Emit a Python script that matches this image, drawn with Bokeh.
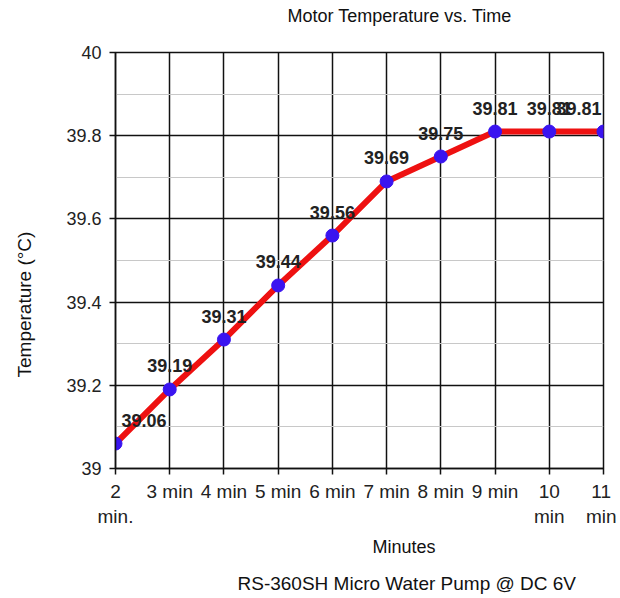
from bokeh.plotting import figure
from bokeh.models import ColumnDataSource, FixedTicker, Range1d, LabelSet, Title
from bokeh.embed import file_html
from bokeh.resources import INLINE
from bokeh.core.properties import value

minutes = ["2\nmin.", "3 min", "4 min", "5 min", "6 min", "7 min", "8 min",
           "9 min", "10\nmin", "11\nmin"]
temps = [39.06, 39.19, 39.31, 39.44, 39.56, 39.69, 39.75, 39.81, 39.81, 39.81]
y_ticks = [39.0, 39.2, 39.4, 39.6, 39.8, 40.0]
y_tick_labels = ["39", "39.2", "39.4", "39.6", "39.8", "40"]
y_minor = [39.1, 39.3, 39.5, 39.7, 39.9]

title_text = "Motor Temperature vs. Time"
x_title = "Minutes"
y_title = "Temperature (°C)"
subtitle = "RS-360SH Micro Water Pump @ DC 6V"

FONT = "Liberation Sans"
idx = list(range(len(minutes)))
aligns = ["left"] + ["center"] * (len(minutes) - 2) + ["right"]
xoffs = [6] + [0] * (len(minutes) - 2) + [-2]
src = ColumnDataSource(dict(x=idx, y=temps, lab=[f"{t:.2f}" for t in temps],
                            al=aligns, xo=xoffs))

p = figure(width=616, height=598, output_backend="svg", toolbar_location=None,
           x_range=Range1d(0, len(minutes) - 1), y_range=Range1d(39, 40),
           frame_width=488, frame_height=416,
           min_border_left=115, min_border_right=13, min_border_top=52,
           min_border_bottom=130)
p.title.text = ""
p.background_fill_color = "white"
p.border_fill_color = "white"
p.outline_line_color = "#111111"
p.outline_line_width = 1.5

p.xaxis.ticker = FixedTicker(ticks=idx)
p.xaxis.major_label_overrides = {i: m for i, m in zip(idx, minutes)}
p.yaxis.ticker = FixedTicker(ticks=y_ticks, minor_ticks=y_minor)
p.yaxis.major_label_overrides = {t: l for t, l in zip(y_ticks, y_tick_labels)}

for ax in (p.xaxis, p.yaxis):
    ax.axis_line_color = "#111111"
    ax.axis_line_width = 1.5
    ax.major_tick_line_color = "#111111"
    ax.major_tick_line_width = 1.5
    ax.major_tick_out = 6
    ax.major_tick_in = 0
    ax.minor_tick_line_color = None
    ax.major_label_text_font = FONT
    ax.major_label_text_color = "#222222"
p.xaxis.major_label_text_font_size = "19px"
p.yaxis.major_label_text_font_size = "18px"
p.yaxis.major_label_standoff = 8
p.xaxis.major_label_standoff = 6

p.xgrid.grid_line_color = "#111111"
p.xgrid.grid_line_width = 1.5
p.ygrid.grid_line_color = "#111111"
p.ygrid.grid_line_width = 1.5
p.ygrid.minor_grid_line_color = "#c8c8c8"
p.ygrid.minor_grid_line_width = 1

p.line("x", "y", source=src, line_color="#ee1111", line_width=6)
p.scatter("x", "y", source=src, size=13, fill_color="#3a14f0", line_color="#3a14f0")

labels = LabelSet(x="x", y="y", text="lab", source=src, text_align="al",
                  x_offset="xo", y_offset=17, text_baseline="bottom",
                  text_font=value(FONT), text_font_size=value("18px"),
                  text_font_style="bold", text_color="#222222")
p.add_layout(labels)


def title(text, size, offset, standoff):
    return Title(text=text, align="left", offset=offset, text_font=FONT,
                 text_font_size=size, text_font_style="normal",
                 text_color="#111111", standoff=standoff)


def spacer(standoff):
    return Title(text=" ", text_font_size="1px", standoff=standoff)


p.add_layout(spacer(22), "above")
p.add_layout(title(title_text, "18px", 172, 4), "above")
p.add_layout(title(x_title, "18px", 257, 11), "below")
p.add_layout(title(subtitle, "19px", 122, 17), "below")
p.add_layout(spacer(24), "left")
p.add_layout(title(y_title, "19px", 91, 4), "left")

open("out.html", "w").write(file_html(p, INLINE))
